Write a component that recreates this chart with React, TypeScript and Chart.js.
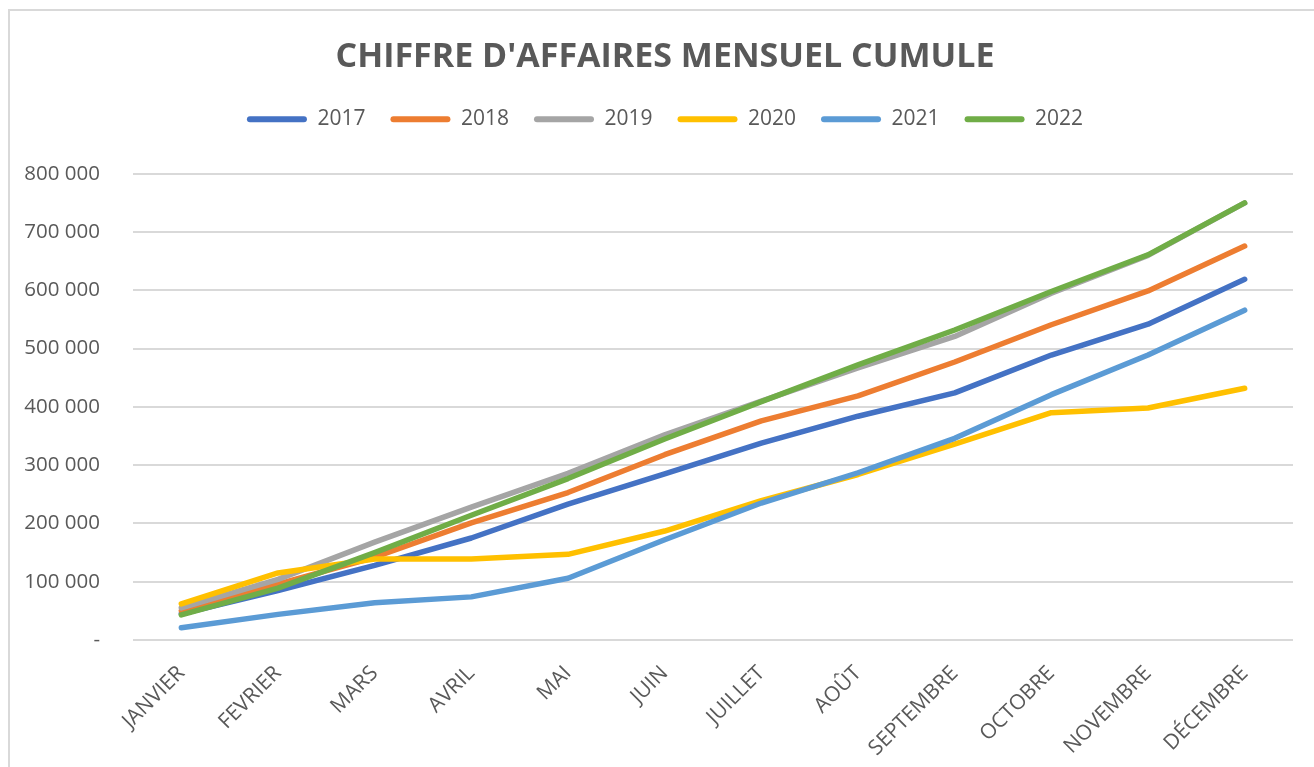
import React, { useEffect, useRef } from "react";
import { Chart, registerables } from "chart.js";

Chart.register(...registerables);

const months = ["JANVIER", "FEVRIER", "MARS", "AVRIL", "MAI", "JUIN", "JUILLET", "AOÛT", "SEPTEMBRE", "OCTOBRE", "NOVEMBRE", "DÉCEMBRE"];
const years = ["2017", "2018", "2019", "2020", "2021", "2022"];
const colors = ["#4472C4", "#ED7D31", "#A5A5A5", "#FFC000", "#5B9BD5", "#70AD47"];

const s2017 = [45000, 85000, 128000, 175000, 233000, 285000, 338000, 384000, 424000, 489000, 542000, 619000];
const s2018 = [50000, 96000, 142000, 201000, 253000, 318000, 376000, 419000, 477000, 541000, 599000, 676000];
const s2019 = [55000, 104000, 168000, 228000, 286000, 352000, 410000, 467000, 521000, 595000, 660000, 750000];
const s2020 = [62000, 115000, 139000, 139000, 147000, 187000, 239000, 284000, 336000, 390000, 398000, 432000];
const s2021 = [21000, 44000, 64000, 74000, 106000, 172000, 235000, 287000, 346000, 421000, 489000, 566000];
const s2022 = [43000, 89000, 150000, 214000, 277000, 345000, 409000, 472000, 532000, 598000, 661000, 750000];

const series = [s2017, s2018, s2019, s2020, s2021, s2022];
const title = "CHIFFRE D'AFFAIRES MENSUEL CUMULE";

const fmt = (v: number) => (v === 0 ? "-" : String(Math.round(v)).replace(/\B(?=(\d{3})+(?!\d))/g, " "));

export default function App() {
  const ref = useRef<HTMLCanvasElement | null>(null);
  useEffect(() => {
    if (!ref.current) return;
    Chart.defaults.font.family = "'Open Sans', sans-serif";
    const chart = new Chart(ref.current, {
      type: "line",
      data: {
        labels: months,
        datasets: years.map((y, i) => ({
          label: y,
          data: series[i],
          xAxisID: "x",
          yAxisID: "y",
          borderColor: colors[i],
          backgroundColor: colors[i],
          borderWidth: 5.5,
          borderCapStyle: "round",
          borderJoinStyle: "round",
          pointRadius: 0,
          tension: 0,
          order: 5 - i,
        })),
      },
      options: {
        animation: false,
        responsive: false,
        layout: { padding: 0 },
        plugins: {
          title: {
            display: true,
            text: title,
            color: "#595959",
            font: { size: 34, weight: "bold" },
            padding: { top: 37, bottom: 6 },
          },
          legend: {
            display: true,
            labels: {
              color: "#595959",
              font: { size: 21 },
              boxWidth: 60,
              boxHeight: 6,
              padding: 25,
              useBorderRadius: true,
              borderRadius: 3,
              generateLabels: (c: any) =>
                c.data.datasets.map((d: any, i: number) => ({
                  text: d.label,
                  fillStyle: d.borderColor,
                  strokeStyle: d.borderColor,
                  lineWidth: 0,
                  hidden: false,
                  datasetIndex: i,
                  fontColor: "#595959",
                  borderRadius: 3,
                })),
            },
          },
          tooltip: { enabled: false },
        },
        scales: {
          x: {
            position: "bottom",
            grid: { display: false },
            border: { display: false },
            offset: true,
            ticks: {
              color: "#595959",
              font: { size: 21 },
              minRotation: 45,
              maxRotation: 45,
              padding: 13,
            },
            afterFit: (s: any) => {
              s.height = 127;
            },
          },
          y: {
            position: "left",
            min: 0,
            max: 800000,
            grid: { color: "#d9d9d9", lineWidth: 2, drawTicks: false },
            border: { display: false },
            ticks: {
              stepSize: 100000,
              color: "#595959",
              font: { size: 20.5 },
              padding: 33,
              callback: (v: any) => fmt(Number(v)),
            },
            afterFit: (s: any) => {
              s.width = 133;
            },
          },
          xTop: {
            type: "category",
            position: "top",
            display: true,
            grid: { display: false },
            border: { display: false },
            ticks: { display: false },
            afterFit: (s: any) => {
              s.height = 34;
            },
          },
          yRight: {
            type: "linear",
            position: "right",
            display: true,
            grid: { display: false },
            border: { display: false },
            ticks: { display: false },
            afterFit: (s: any) => {
              s.width = 37;
            },
          },
        },
      },
    });
    return () => chart.destroy();
  }, []);
  return (
    <div style={{ position: "absolute", left: 0, top: 0, width: 1314, height: 767, background: "#fff", overflow: "hidden" }}>
      <div
        style={{
          position: "absolute",
          left: 8,
          top: 9,
          width: 1306,
          height: 758,
          borderTop: "2px solid #d9d9d9",
          borderLeft: "2px solid #d9d9d9",
          boxSizing: "border-box",
        }}
      />
      <canvas ref={ref} width={1330} height={767} style={{ position: "absolute", left: 0, top: 0 }} />
    </div>
  );
}
